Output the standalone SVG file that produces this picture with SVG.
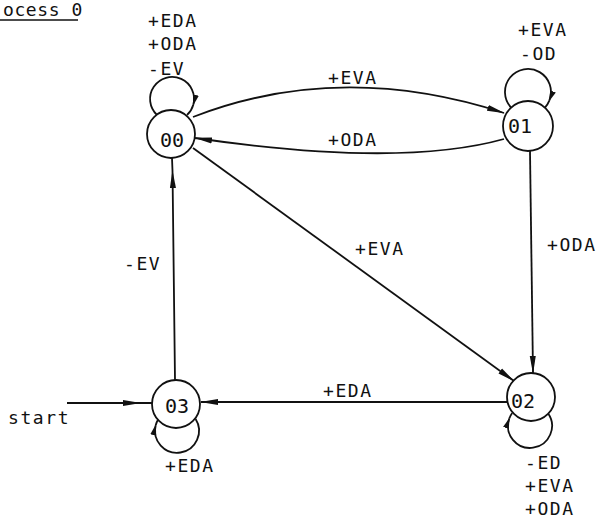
<svg xmlns="http://www.w3.org/2000/svg" width="598" height="521" viewBox="0 0 598 521">
  <style>
    .node circle { fill: #fff; stroke: #111; stroke-width: 1.8; }
    .node text { font-family: "DejaVu Sans Mono", "Liberation Mono", monospace; font-size: 20px; fill: #111; text-anchor: middle; }
    .lbl { font-family: "DejaVu Sans Mono", "Liberation Mono", monospace; font-size: 18px; letter-spacing: 1.6px; fill: #111; }
    .edge { fill: none; stroke: #111; stroke-width: 1.8; }
  </style>
  <defs>
    <marker id="arr" viewBox="0 0 18 8" refX="17" refY="4" markerWidth="18" markerHeight="8" markerUnits="userSpaceOnUse" orient="auto">
      <path d="M0,1 L18,4 L0,7 Z" fill="#111"/>
    </marker>
    <marker id="arrs" viewBox="0 0 11 7" refX="10" refY="3.5" markerWidth="11" markerHeight="7" markerUnits="userSpaceOnUse" orient="auto">
      <path d="M0,0.5 L11,3.5 L0,6.5 Z" fill="#111"/>
    </marker>
  </defs>

  <!-- title -->
  <g id="title">
    <text class="lbl" x="3" y="16" style="letter-spacing:0.6px">ocess 0</text>
    <line x1="0" y1="20" x2="78" y2="20" stroke="#111" stroke-width="1.5"/>
  </g>

  <!-- transitions -->
  <g id="connectors">
    <!-- start -> 03 -->
    <path class="edge" d="M67,403 L140,403 L152,403" marker-mid="url(#arr)"/>
    <!-- 02 -> 03 -->
    <path class="edge" d="M507,402 L201,402" marker-end="url(#arr)"/>
    <!-- 03 -> 00 -->
    <path class="edge" d="M175,380 L172.5,171 L172,158" marker-mid="url(#arr)"/>
    <!-- 00 -> 01 -->
    <path class="edge" d="M193,117 Q340,60 504,113" marker-end="url(#arr)"/>
    <!-- 01 -> 00 -->
    <path class="edge" d="M504,139 Q400,168 195,138" marker-end="url(#arr)"/>
    <!-- 00 -> 02 -->
    <path class="edge" d="M193,148 L514,381" marker-end="url(#arr)"/>
    <!-- 01 -> 02 -->
    <path class="edge" d="M530,151 L533,373" marker-end="url(#arr)"/>

    <!-- self loops -->
    <path class="edge" d="M157,115 A22,22 0 1,1 193.3,104.7" marker-end="url(#arrs)"/>
    <path class="edge" d="M193.3,104.7 A22,22 0 0,1 187,115"/>

    <path class="edge" d="M511.1,107.6 A23,23 0 1,1 549.3,100.6" marker-end="url(#arrs)"/>
    <path class="edge" d="M549.3,100.6 A23,23 0 0,1 544.9,107.6"/>

    <path class="edge" d="M195.6,419 A22,22 0 1,1 155.7,425.3" marker-end="url(#arrs)"/>
    <path class="edge" d="M155.7,425.3 A22,22 0 0,1 158.4,419"/>

    <path class="edge" d="M547.8,413 A22,22 0 1,1 509.3,418.5" marker-end="url(#arrs)"/>
    <path class="edge" d="M509.3,418.5 A22,22 0 0,1 512.2,413"/>
  </g>

  <!-- transition labels -->
  <g id="labels">
    <text class="lbl" x="8" y="424">start</text>
    <text class="lbl" x="328" y="84">+EVA</text>
    <text class="lbl" x="328" y="146">+ODA</text>
    <text class="lbl" x="355" y="255">+EVA</text>
    <text class="lbl" x="547" y="251">+ODA</text>
    <text class="lbl" x="124" y="270">-EV</text>
    <text class="lbl" x="323" y="397">+EDA</text>

    <text class="lbl" x="148" y="27">+EDA</text>
    <text class="lbl" x="148" y="50">+ODA</text>
    <text class="lbl" x="148" y="75">-EV</text>

    <text class="lbl" x="518" y="36">+EVA</text>
    <text class="lbl" x="520" y="60">-OD</text>

    <text class="lbl" x="165" y="472">+EDA</text>

    <text class="lbl" x="525" y="469">-ED</text>
    <text class="lbl" x="525" y="492">+EVA</text>
    <text class="lbl" x="525" y="515">+ODA</text>
  </g>

  <!-- states -->
  <g id="n00" class="node">
    <circle cx="171" cy="134" r="24"/>
    <text x="172" y="147">00</text>
  </g>
  <g id="n01" class="node">
    <circle cx="528" cy="126" r="25"/>
    <text x="520" y="133">01</text>
  </g>
  <g id="n02" class="node">
    <circle cx="531" cy="397" r="24"/>
    <text x="523" y="408">02</text>
  </g>
  <g id="n03" class="node">
    <circle cx="176" cy="404" r="24"/>
    <text x="177" y="413">03</text>
  </g>
</svg>
